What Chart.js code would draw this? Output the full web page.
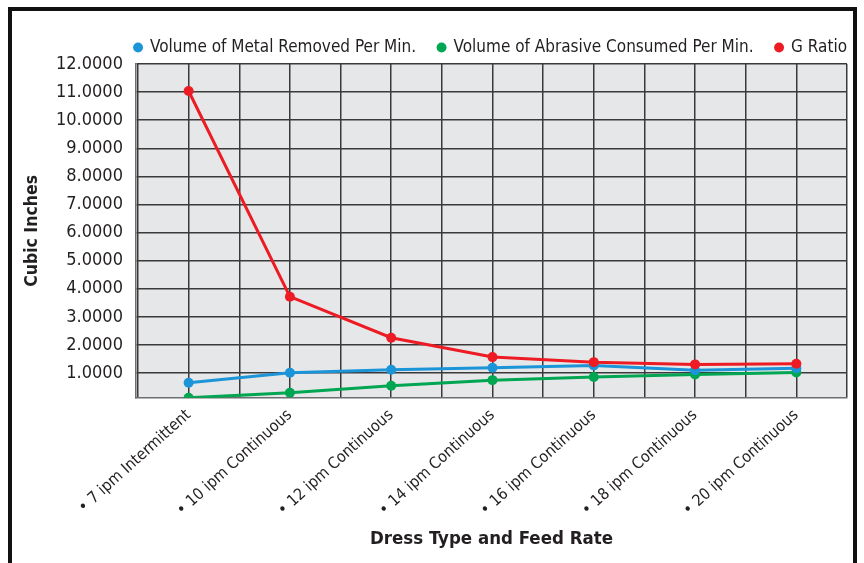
<!DOCTYPE html>
<html>
<head>
<meta charset="utf-8">
<script src="https://cdn.jsdelivr.net/npm/chart.js@4/dist/chart.umd.min.js"></script>
<style>
  html, body { margin: 0; padding: 0; background: #fff; }
  #wrap { width: 864px; height: 563px; }
</style>
</head>
<body>
<div id="wrap"><canvas id="c" width="864" height="563"></canvas></div>
<script>
// Dress type / feed rate categories
const categories = [
  '• 7 ipm Intermittent',
  '• 10 ipm Continuous',
  '• 12 ipm Continuous',
  '• 14 ipm Continuous',
  '• 16 ipm Continuous',
  '• 18 ipm Continuous',
  '• 20 ipm Continuous'
];
// Cubic inches per minute
const metalRemoved = [0.66, 1.01, 1.12, 1.19, 1.27, 1.10, 1.17];
const abrasiveConsumed = [0.12, 0.30, 0.55, 0.75, 0.86, 0.95, 1.02];
const gRatio = [11.04, 3.72, 2.26, 1.57, 1.39, 1.31, 1.33];
// Value axis tick labels
const yTicks = [1, 2, 3, 4, 5, 6, 7, 8, 9, 10, 11, 12];

const FONT = "'Liberation Sans Narrow', 'Arial Narrow', 'DejaVu Sans Condensed', sans-serif";
const INK = '#231f20';

const toPoints = arr => arr.map((v, i) => ({ x: i, y: v }));

// White page, grey plot panel and the heavy outer frame
const frame = {
  id: 'frame',
  afterLayout(chart) {
    // let the legend row end flush with the plot's right edge
    const pad = chart.options.plugins.legend.labels.padding;
    const shift = chart.chartArea.right - chart.legend.right + pad;
    chart.legend.left += shift;
    chart.legend.right += shift;
  },
  beforeDraw(chart) {
    const { ctx, chartArea: a } = chart;
    ctx.save();
    ctx.fillStyle = '#ffffff';
    ctx.fillRect(0, 0, chart.width, chart.height);
    ctx.fillStyle = '#e6e7e8';
    ctx.fillRect(a.left, a.top, a.right - a.left, a.bottom - a.top);
    ctx.strokeStyle = '#111';
    ctx.lineWidth = 4;
    ctx.strokeRect(10, 9, 845, 620);
    ctx.restore();
  }
};

new Chart(document.getElementById('c'), {
  type: 'line',
  data: {
    datasets: [
      { label: 'Volume of Metal Removed Per Min.', data: toPoints(metalRemoved),
        borderColor: '#1b95d8', backgroundColor: '#1b95d8', order: 1 },
      { label: 'Volume of Abrasive Consumed Per Min.', data: toPoints(abrasiveConsumed),
        borderColor: '#00a651', backgroundColor: '#00a651', order: 2 },
      { label: 'G Ratio', data: toPoints(gRatio),
        borderColor: '#ed1c24', backgroundColor: '#ed1c24', order: 0 }
    ]
  },
  options: {
    responsive: false,
    animation: false,
    events: [],
    elements: {
      line: { borderWidth: 3, tension: 0 },
      point: { radius: 5, borderWidth: 0 }
    },
    layout: { padding: { left: 14, right: 17, top: 17, bottom: 13 } },
    plugins: {
      tooltip: { enabled: false },
      legend: {
        position: 'top',
        align: 'end',
        maxHeight: 47,
        labels: {
          usePointStyle: true,
          pointStyle: 'circle',
          boxWidth: 7,
          boxHeight: 7,
          padding: 22,
          color: INK,
          font: { family: FONT, size: 17 },
          sort: (a, b) => a.datasetIndex - b.datasetIndex
        }
      }
    },
    scales: {
      x: {
        type: 'linear',
        min: -0.52,
        max: 6.5,
        afterBuildTicks(scale) {
          const t = [];
          for (let v = -0.5; v <= 6.5; v += 0.5) t.push({ value: v });
          scale.ticks = t;
        },
        afterFit(scale) {
          // the last tick carries no label, so no extra room is needed on the right
          scale.paddingRight = 0;
        },
        grid: { color: '#3a3a3a', lineWidth: 1.5, drawTicks: false },
        border: { color: '#6d6e70', width: 1.5 },
        ticks: {
          autoSkip: false,
          minRotation: 42,
          maxRotation: 42,
          padding: 8,
          color: INK,
          font: { family: FONT, size: 16 },
          callback: v => Number.isInteger(v) ? categories[v] : ''
        },
        title: {
          display: true,
          text: 'Dress Type and Feed Rate',
          color: INK,
          font: { family: FONT, size: 18.5, weight: 'bold' },
          padding: { top: 0, bottom: 0 }
        }
      },
      y: {
        min: 0.12,
        max: 12,
        afterBuildTicks(scale) {
          scale.ticks = yTicks.map(v => ({ value: v }));
        },
        grid: { color: '#3a3a3a', lineWidth: 1.5, drawTicks: false },
        border: { color: '#6d6e70', width: 1.5 },
        ticks: {
          padding: 13,
          color: INK,
          font: { family: FONT, size: 18 },
          callback: v => Number(v).toFixed(4)
        },
        title: {
          display: true,
          text: 'Cubic Inches',
          color: INK,
          font: { family: FONT, size: 17.5, weight: 'bold' },
          padding: { top: 8, bottom: 0 }
        }
      }
    }
  },
  plugins: [frame]
});
</script>
</body>
</html>
